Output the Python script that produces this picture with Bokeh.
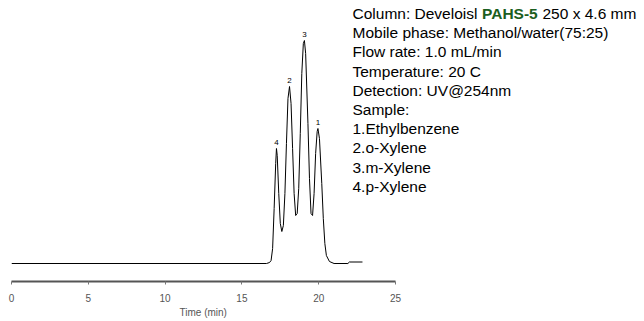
from bokeh.plotting import figure
from bokeh.models import Label, Range1d, FixedTicker, Title
from bokeh.embed import file_html
from bokeh.resources import INLINE

# Chromatogram trace (retention time in min, detector signal in arbitrary units)
time_min = [0.0, 16.6, 16.8, 16.9, 17.0, 17.1, 17.2, 17.25, 17.3, 17.4, 17.5, 17.6,
            17.7, 17.8, 17.9, 18.0, 18.1, 18.2, 18.3, 18.4, 18.5, 18.6, 18.7, 18.8,
            18.9, 19.0, 19.07, 19.15, 19.3, 19.4, 19.5, 19.6, 19.7, 19.8, 19.9, 19.95,
            20.05, 20.2, 20.3, 20.4, 20.5, 20.7, 21.0, 21.9, 22.0, 22.85]
signal = [0, 0, 1, 3, 15, 55, 100, 115, 108, 70, 40, 32,
          38, 70, 120, 165, 177, 160, 115, 70, 48, 50, 75, 130,
          190, 220, 223, 210, 140, 85, 50, 48, 70, 110, 132, 135,
          125, 80, 45, 20, 8, 2, 0, 0, 1.5, 1.5]

peak_labels = ["4", "2", "3", "1"]
peak_times = [17.25, 18.1, 19.07, 19.95]
peak_heights = [115, 177, 223, 135]

x_ticks = [0, 5, 10, 15, 20, 25]
x_title = "Time (min)"

conditions = [
    "Mobile phase: Methanol/water(75:25)",
    "Flow rate: 1.0 mL/min",
    "Temperature: 20 C",
    "Detection: UV@254nm",
    "Sample:",
    "1.Ethylbenzene",
    "2.o-Xylene",
    "3.m-Xylene",
    "4.p-Xylene",
]
column_prefix = "Column: Develoisl"
column_name = "PAHS-5"
column_suffix = "250 x 4.6 mm"

FONT = "Liberation Sans"
PX_PER_MIN = 15.36

p = figure(width=644, height=321, output_backend="svg", toolbar_location=None,
           x_range=Range1d(0, 633 / PX_PER_MIN), y_range=Range1d(-18, 263),
           y_axis_location=None,
           min_border_left=11, min_border_right=0, min_border_top=0, min_border_bottom=40)
p.outline_line_color = None
p.xgrid.visible = False
p.ygrid.visible = False
p.background_fill_color = "white"
p.border_fill_color = "white"

p.line(time_min, signal, line_color="black", line_width=1)

for lab, t, h in zip(peak_labels, peak_times, peak_heights):
    p.add_layout(Label(x=t, y=h + 4, text=lab, text_font=FONT, text_font_size="8px",
                       text_align="center", text_baseline="bottom", text_color="black"))

xa = p.xaxis[0]
xa.bounds = (x_ticks[0], x_ticks[-1])
xa.ticker = FixedTicker(ticks=x_ticks)
xa.axis_line_color = "#555555"
xa.axis_line_width = 2
xa.major_tick_in = 0
xa.major_tick_out = 3
xa.major_tick_line_color = "#777777"
xa.minor_tick_line_color = None
xa.major_label_text_font = FONT
xa.major_label_text_font_size = "10px"
xa.major_label_text_color = "#555555"
xa.major_label_standoff = 9

# axis title, centred under the 0-25 min axis span
p.add_layout(Title(text=x_title, align="left", offset=168, standoff=1,
                   text_font=FONT, text_font_size="10px", text_font_style="normal",
                   text_color="#555555"), "below")

# Text block (data coords: 1 unit = 1 px vertically)
tx = (352 - 11) / PX_PER_MIN
y0 = 250
dy = 19.2
fs = "15.5px"
p.add_layout(Label(x=tx, y=y0, text=column_prefix, text_font=FONT, text_font_size=fs,
                   text_baseline="alphabetic", text_color="black"))
p.add_layout(Label(x=tx, y=y0, x_offset=129.5, text=column_name, text_font=FONT, text_font_size=fs,
                   text_font_style="bold", text_baseline="alphabetic", text_color="#1b5e20"))
p.add_layout(Label(x=tx, y=y0, x_offset=190, text=column_suffix, text_font=FONT, text_font_size=fs,
                   text_baseline="alphabetic", text_color="black"))
for i, line in enumerate(conditions):
    p.add_layout(Label(x=tx, y=y0 - dy * (i + 1), text=line, text_font=FONT, text_font_size=fs,
                       text_baseline="alphabetic", text_color="black"))

open("out.html", "w").write(file_html(p, INLINE))
